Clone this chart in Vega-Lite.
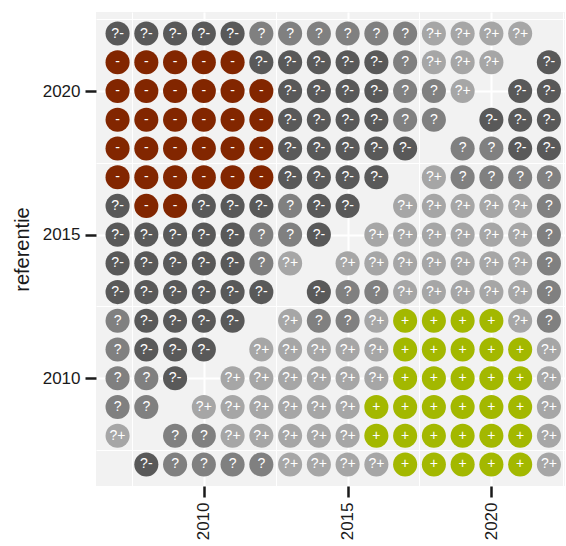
{
  "$schema": "https://vega.github.io/schema/vega-lite/v6.json",
  "width": 469,
  "height": 474,
  "autosize": {"type": "none"},
  "padding": {"left": 96, "top": 12, "right": 1, "bottom": 60},
  "background": "white",
  "config": {"view": {"fill": "#f2f2f2", "stroke": null}, "font": "Liberation Sans"},
  "data": {"values": [
    {"jaar":2007,"referentie":2022,"label":"?-"},{"jaar":2008,"referentie":2022,"label":"?-"},{"jaar":2009,"referentie":2022,"label":"?-"},{"jaar":2010,"referentie":2022,"label":"?-"},{"jaar":2011,"referentie":2022,"label":"?-"},{"jaar":2012,"referentie":2022,"label":"?"},{"jaar":2013,"referentie":2022,"label":"?"},{"jaar":2014,"referentie":2022,"label":"?"},{"jaar":2015,"referentie":2022,"label":"?"},{"jaar":2016,"referentie":2022,"label":"?"},{"jaar":2017,"referentie":2022,"label":"?"},{"jaar":2018,"referentie":2022,"label":"?+"},{"jaar":2019,"referentie":2022,"label":"?+"},{"jaar":2020,"referentie":2022,"label":"?+"},{"jaar":2021,"referentie":2022,"label":"?+"},
    {"jaar":2007,"referentie":2021,"label":"-"},{"jaar":2008,"referentie":2021,"label":"-"},{"jaar":2009,"referentie":2021,"label":"-"},{"jaar":2010,"referentie":2021,"label":"-"},{"jaar":2011,"referentie":2021,"label":"-"},{"jaar":2012,"referentie":2021,"label":"?-"},{"jaar":2013,"referentie":2021,"label":"?-"},{"jaar":2014,"referentie":2021,"label":"?-"},{"jaar":2015,"referentie":2021,"label":"?-"},{"jaar":2016,"referentie":2021,"label":"?-"},{"jaar":2017,"referentie":2021,"label":"?"},{"jaar":2018,"referentie":2021,"label":"?+"},{"jaar":2019,"referentie":2021,"label":"?+"},{"jaar":2020,"referentie":2021,"label":"?+"},{"jaar":2022,"referentie":2021,"label":"?-"},
    {"jaar":2007,"referentie":2020,"label":"-"},{"jaar":2008,"referentie":2020,"label":"-"},{"jaar":2009,"referentie":2020,"label":"-"},{"jaar":2010,"referentie":2020,"label":"-"},{"jaar":2011,"referentie":2020,"label":"-"},{"jaar":2012,"referentie":2020,"label":"-"},{"jaar":2013,"referentie":2020,"label":"?-"},{"jaar":2014,"referentie":2020,"label":"?-"},{"jaar":2015,"referentie":2020,"label":"?-"},{"jaar":2016,"referentie":2020,"label":"?-"},{"jaar":2017,"referentie":2020,"label":"?"},{"jaar":2018,"referentie":2020,"label":"?"},{"jaar":2019,"referentie":2020,"label":"?+"},{"jaar":2021,"referentie":2020,"label":"?-"},{"jaar":2022,"referentie":2020,"label":"?-"},
    {"jaar":2007,"referentie":2019,"label":"-"},{"jaar":2008,"referentie":2019,"label":"-"},{"jaar":2009,"referentie":2019,"label":"-"},{"jaar":2010,"referentie":2019,"label":"-"},{"jaar":2011,"referentie":2019,"label":"-"},{"jaar":2012,"referentie":2019,"label":"-"},{"jaar":2013,"referentie":2019,"label":"?-"},{"jaar":2014,"referentie":2019,"label":"?-"},{"jaar":2015,"referentie":2019,"label":"?-"},{"jaar":2016,"referentie":2019,"label":"?-"},{"jaar":2017,"referentie":2019,"label":"?"},{"jaar":2018,"referentie":2019,"label":"?"},{"jaar":2020,"referentie":2019,"label":"?-"},{"jaar":2021,"referentie":2019,"label":"?-"},{"jaar":2022,"referentie":2019,"label":"?-"},
    {"jaar":2007,"referentie":2018,"label":"-"},{"jaar":2008,"referentie":2018,"label":"-"},{"jaar":2009,"referentie":2018,"label":"-"},{"jaar":2010,"referentie":2018,"label":"-"},{"jaar":2011,"referentie":2018,"label":"-"},{"jaar":2012,"referentie":2018,"label":"-"},{"jaar":2013,"referentie":2018,"label":"?-"},{"jaar":2014,"referentie":2018,"label":"?-"},{"jaar":2015,"referentie":2018,"label":"?-"},{"jaar":2016,"referentie":2018,"label":"?-"},{"jaar":2017,"referentie":2018,"label":"?-"},{"jaar":2019,"referentie":2018,"label":"?"},{"jaar":2020,"referentie":2018,"label":"?"},{"jaar":2021,"referentie":2018,"label":"?-"},{"jaar":2022,"referentie":2018,"label":"?-"},
    {"jaar":2007,"referentie":2017,"label":"-"},{"jaar":2008,"referentie":2017,"label":"-"},{"jaar":2009,"referentie":2017,"label":"-"},{"jaar":2010,"referentie":2017,"label":"-"},{"jaar":2011,"referentie":2017,"label":"-"},{"jaar":2012,"referentie":2017,"label":"-"},{"jaar":2013,"referentie":2017,"label":"?-"},{"jaar":2014,"referentie":2017,"label":"?-"},{"jaar":2015,"referentie":2017,"label":"?-"},{"jaar":2016,"referentie":2017,"label":"?-"},{"jaar":2018,"referentie":2017,"label":"?+"},{"jaar":2019,"referentie":2017,"label":"?"},{"jaar":2020,"referentie":2017,"label":"?"},{"jaar":2021,"referentie":2017,"label":"?"},{"jaar":2022,"referentie":2017,"label":"?"},
    {"jaar":2007,"referentie":2016,"label":"?-"},{"jaar":2008,"referentie":2016,"label":"-"},{"jaar":2009,"referentie":2016,"label":"-"},{"jaar":2010,"referentie":2016,"label":"?-"},{"jaar":2011,"referentie":2016,"label":"?-"},{"jaar":2012,"referentie":2016,"label":"?-"},{"jaar":2013,"referentie":2016,"label":"?"},{"jaar":2014,"referentie":2016,"label":"?-"},{"jaar":2015,"referentie":2016,"label":"?-"},{"jaar":2017,"referentie":2016,"label":"?+"},{"jaar":2018,"referentie":2016,"label":"?+"},{"jaar":2019,"referentie":2016,"label":"?+"},{"jaar":2020,"referentie":2016,"label":"?+"},{"jaar":2021,"referentie":2016,"label":"?+"},{"jaar":2022,"referentie":2016,"label":"?"},
    {"jaar":2007,"referentie":2015,"label":"?-"},{"jaar":2008,"referentie":2015,"label":"?-"},{"jaar":2009,"referentie":2015,"label":"?-"},{"jaar":2010,"referentie":2015,"label":"?-"},{"jaar":2011,"referentie":2015,"label":"?-"},{"jaar":2012,"referentie":2015,"label":"?"},{"jaar":2013,"referentie":2015,"label":"?"},{"jaar":2014,"referentie":2015,"label":"?-"},{"jaar":2016,"referentie":2015,"label":"?+"},{"jaar":2017,"referentie":2015,"label":"?+"},{"jaar":2018,"referentie":2015,"label":"?+"},{"jaar":2019,"referentie":2015,"label":"?+"},{"jaar":2020,"referentie":2015,"label":"?+"},{"jaar":2021,"referentie":2015,"label":"?+"},{"jaar":2022,"referentie":2015,"label":"?"},
    {"jaar":2007,"referentie":2014,"label":"?-"},{"jaar":2008,"referentie":2014,"label":"?-"},{"jaar":2009,"referentie":2014,"label":"?-"},{"jaar":2010,"referentie":2014,"label":"?-"},{"jaar":2011,"referentie":2014,"label":"?-"},{"jaar":2012,"referentie":2014,"label":"?"},{"jaar":2013,"referentie":2014,"label":"?+"},{"jaar":2015,"referentie":2014,"label":"?+"},{"jaar":2016,"referentie":2014,"label":"?+"},{"jaar":2017,"referentie":2014,"label":"?+"},{"jaar":2018,"referentie":2014,"label":"?+"},{"jaar":2019,"referentie":2014,"label":"?+"},{"jaar":2020,"referentie":2014,"label":"?+"},{"jaar":2021,"referentie":2014,"label":"?+"},{"jaar":2022,"referentie":2014,"label":"?"},
    {"jaar":2007,"referentie":2013,"label":"?-"},{"jaar":2008,"referentie":2013,"label":"?-"},{"jaar":2009,"referentie":2013,"label":"?-"},{"jaar":2010,"referentie":2013,"label":"?-"},{"jaar":2011,"referentie":2013,"label":"?-"},{"jaar":2012,"referentie":2013,"label":"?-"},{"jaar":2014,"referentie":2013,"label":"?-"},{"jaar":2015,"referentie":2013,"label":"?"},{"jaar":2016,"referentie":2013,"label":"?"},{"jaar":2017,"referentie":2013,"label":"?+"},{"jaar":2018,"referentie":2013,"label":"?+"},{"jaar":2019,"referentie":2013,"label":"?+"},{"jaar":2020,"referentie":2013,"label":"?+"},{"jaar":2021,"referentie":2013,"label":"?+"},{"jaar":2022,"referentie":2013,"label":"?"},
    {"jaar":2007,"referentie":2012,"label":"?"},{"jaar":2008,"referentie":2012,"label":"?-"},{"jaar":2009,"referentie":2012,"label":"?-"},{"jaar":2010,"referentie":2012,"label":"?-"},{"jaar":2011,"referentie":2012,"label":"?-"},{"jaar":2013,"referentie":2012,"label":"?+"},{"jaar":2014,"referentie":2012,"label":"?"},{"jaar":2015,"referentie":2012,"label":"?"},{"jaar":2016,"referentie":2012,"label":"?+"},{"jaar":2017,"referentie":2012,"label":"+"},{"jaar":2018,"referentie":2012,"label":"+"},{"jaar":2019,"referentie":2012,"label":"+"},{"jaar":2020,"referentie":2012,"label":"+"},{"jaar":2021,"referentie":2012,"label":"?+"},{"jaar":2022,"referentie":2012,"label":"?"},
    {"jaar":2007,"referentie":2011,"label":"?"},{"jaar":2008,"referentie":2011,"label":"?-"},{"jaar":2009,"referentie":2011,"label":"?-"},{"jaar":2010,"referentie":2011,"label":"?-"},{"jaar":2012,"referentie":2011,"label":"?+"},{"jaar":2013,"referentie":2011,"label":"?+"},{"jaar":2014,"referentie":2011,"label":"?+"},{"jaar":2015,"referentie":2011,"label":"?+"},{"jaar":2016,"referentie":2011,"label":"?+"},{"jaar":2017,"referentie":2011,"label":"+"},{"jaar":2018,"referentie":2011,"label":"+"},{"jaar":2019,"referentie":2011,"label":"+"},{"jaar":2020,"referentie":2011,"label":"+"},{"jaar":2021,"referentie":2011,"label":"+"},{"jaar":2022,"referentie":2011,"label":"?+"},
    {"jaar":2007,"referentie":2010,"label":"?"},{"jaar":2008,"referentie":2010,"label":"?"},{"jaar":2009,"referentie":2010,"label":"?-"},{"jaar":2011,"referentie":2010,"label":"?+"},{"jaar":2012,"referentie":2010,"label":"?+"},{"jaar":2013,"referentie":2010,"label":"?+"},{"jaar":2014,"referentie":2010,"label":"?+"},{"jaar":2015,"referentie":2010,"label":"?+"},{"jaar":2016,"referentie":2010,"label":"?+"},{"jaar":2017,"referentie":2010,"label":"+"},{"jaar":2018,"referentie":2010,"label":"+"},{"jaar":2019,"referentie":2010,"label":"+"},{"jaar":2020,"referentie":2010,"label":"+"},{"jaar":2021,"referentie":2010,"label":"+"},{"jaar":2022,"referentie":2010,"label":"?+"},
    {"jaar":2007,"referentie":2009,"label":"?"},{"jaar":2008,"referentie":2009,"label":"?"},{"jaar":2010,"referentie":2009,"label":"?+"},{"jaar":2011,"referentie":2009,"label":"?+"},{"jaar":2012,"referentie":2009,"label":"?+"},{"jaar":2013,"referentie":2009,"label":"?+"},{"jaar":2014,"referentie":2009,"label":"?+"},{"jaar":2015,"referentie":2009,"label":"?+"},{"jaar":2016,"referentie":2009,"label":"+"},{"jaar":2017,"referentie":2009,"label":"+"},{"jaar":2018,"referentie":2009,"label":"+"},{"jaar":2019,"referentie":2009,"label":"+"},{"jaar":2020,"referentie":2009,"label":"+"},{"jaar":2021,"referentie":2009,"label":"+"},{"jaar":2022,"referentie":2009,"label":"?+"},
    {"jaar":2007,"referentie":2008,"label":"?+"},{"jaar":2009,"referentie":2008,"label":"?"},{"jaar":2010,"referentie":2008,"label":"?"},{"jaar":2011,"referentie":2008,"label":"?+"},{"jaar":2012,"referentie":2008,"label":"?+"},{"jaar":2013,"referentie":2008,"label":"?+"},{"jaar":2014,"referentie":2008,"label":"?+"},{"jaar":2015,"referentie":2008,"label":"?+"},{"jaar":2016,"referentie":2008,"label":"+"},{"jaar":2017,"referentie":2008,"label":"+"},{"jaar":2018,"referentie":2008,"label":"+"},{"jaar":2019,"referentie":2008,"label":"+"},{"jaar":2020,"referentie":2008,"label":"+"},{"jaar":2021,"referentie":2008,"label":"+"},{"jaar":2022,"referentie":2008,"label":"?+"},
    {"jaar":2008,"referentie":2007,"label":"?-"},{"jaar":2009,"referentie":2007,"label":"?"},{"jaar":2010,"referentie":2007,"label":"?"},{"jaar":2011,"referentie":2007,"label":"?"},{"jaar":2012,"referentie":2007,"label":"?"},{"jaar":2013,"referentie":2007,"label":"?+"},{"jaar":2014,"referentie":2007,"label":"?+"},{"jaar":2015,"referentie":2007,"label":"?+"},{"jaar":2016,"referentie":2007,"label":"?+"},{"jaar":2017,"referentie":2007,"label":"+"},{"jaar":2018,"referentie":2007,"label":"+"},{"jaar":2019,"referentie":2007,"label":"+"},{"jaar":2020,"referentie":2007,"label":"+"},{"jaar":2021,"referentie":2007,"label":"+"},{"jaar":2022,"referentie":2007,"label":"?+"}
  ]},
  "resolve": {"axis": {"x": "independent", "y": "independent"}},
  "layer": [
    {
      "mark": {"type": "point", "filled": true, "shape": "circle", "size": 580, "opacity": 1},
      "encoding": {
        "x": {"field": "jaar", "type": "quantitative",
          "scale": {"domain": [2006.25, 2022.56], "nice": false, "zero": false},
          "axis": {"orient": "bottom", "values": [2010, 2015, 2020], "format": "d", "grid": true, "gridColor": "white", "gridWidth": 2,
            "domain": false, "ticks": true, "tickColor": "#1a1a1a", "tickWidth": 2.5, "tickSize": 11,
            "labelAngle": 270, "labelAlign": "right", "labelBaseline": "middle", "labelPadding": 5,
            "labelFontSize": 17, "labelColor": "#1a1a1a", "labelFont": "Liberation Sans", "title": null}},
        "y": {"field": "referentie", "type": "quantitative",
          "scale": {"domain": [2006.25, 2022.75], "nice": false, "zero": false},
          "axis": {"orient": "left", "values": [2010, 2015, 2020], "format": "d", "grid": true, "gridColor": "white", "gridWidth": 2,
            "domain": false, "ticks": true, "tickColor": "#1a1a1a", "tickWidth": 2.5, "tickSize": 11,
            "labelPadding": 5, "labelFontSize": 17, "labelColor": "#1a1a1a", "labelFont": "Liberation Sans",
            "title": "referentie", "titleFontSize": 20, "titleFontWeight": "normal", "titleColor": "#1a1a1a", "titleFont": "Liberation Sans", "titlePadding": 10}},
        "color": {"field": "label", "type": "nominal",
          "scale": {"domain": ["-", "?-", "?", "?+", "+"], "range": ["#822600", "#595959", "#808080", "#a6a6a6", "#a3b800"]},
          "legend": null}
      }
    },
    {
      "mark": {"type": "text", "color": "white", "fontSize": 14, "font": "Liberation Sans", "align": "center", "baseline": "middle"},
      "encoding": {
        "x": {"field": "jaar", "type": "quantitative",
          "axis": {"orient": "top", "values": [2007.5, 2012.5, 2017.5, 2022.5], "grid": true, "gridColor": "white", "gridWidth": 1,
            "domain": false, "ticks": false, "labels": false, "title": null}},
        "y": {"field": "referentie", "type": "quantitative",
          "axis": {"orient": "right", "values": [2007.5, 2012.5, 2017.5, 2022.5], "grid": true, "gridColor": "white", "gridWidth": 1,
            "domain": false, "ticks": false, "labels": false, "title": null}},
        "text": {"field": "label", "type": "nominal"}
      }
    }
  ]
}
